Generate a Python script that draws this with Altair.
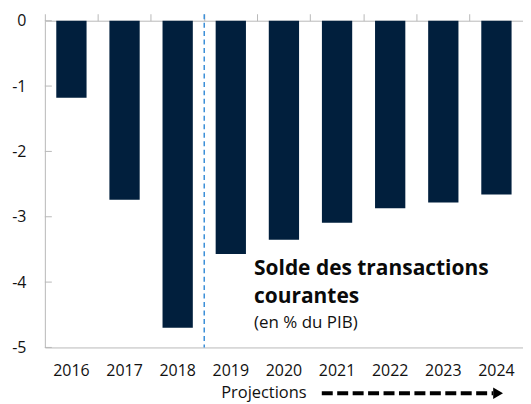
import altair as alt
import pandas as pd

years = ["2016", "2017", "2018", "2019", "2020", "2021", "2022", "2023", "2024"]
values = [-1.18, -2.74, -4.70, -3.57, -3.35, -3.09, -2.87, -2.78, -2.66]
y_ticks = [0, -1, -2, -3, -4, -5]

title_lines = ["Solde des transactions", "courantes"]
subtitle = "(en % du PIB)"
proj_label = "Projections"
proj_start_year = "2019"

FONT = "Open Sans"
BAR = "#011f3d"
GRAY = "#b9b9b9"

df = pd.DataFrame({"year": years, "value": values})
ticks_df = pd.DataFrame({"t": y_ticks})

xscale = alt.Scale(domain=years, paddingInner=0, paddingOuter=0)
yscale = alt.Scale(domain=[-5, 0], nice=False, zero=False)

bars = alt.Chart(df).mark_bar(color=BAR, width=alt.RelativeBandSize(0.57)).encode(
    x=alt.X("year:N", scale=xscale, sort=years,
            axis=alt.Axis(orient="bottom", title=None, ticks=False, domainColor=GRAY,
                          labelAngle=0, labelFont=FONT, labelFontSize=16,
                          labelColor="#111111", labelPadding=15, domainWidth=1)),
    y=alt.Y("value:Q", scale=yscale,
            axis=alt.Axis(title=None, values=y_ticks, labelExpr="datum.value + ''", ticks=False,
                          domainColor=GRAY, labelFont=FONT, labelFontSize=16,
                          labelColor="#111111", labelPadding=19, grid=False)),
)

top_axis = alt.Chart(df).mark_bar(opacity=0).encode(
    x=alt.X("year:N", scale=xscale, sort=years,
            axis=alt.Axis(orient="top", title=None, labels=False, tickSize=7,
                          tickColor=GRAY, domainColor=GRAY, bandPosition=0)),
    y=alt.Y("value:Q"),
)

ytick_marks = alt.Chart(ticks_df).mark_rule(color=GRAY, strokeWidth=1).encode(
    y=alt.Y("t:Q"),
    x=alt.value(0),
    x2=alt.value(7),
)

vline = alt.Chart(pd.DataFrame({"year": [proj_start_year], "top": [0.1], "bot": [-5]})).mark_rule(
    color="#3b8fd8", strokeWidth=1.5, strokeDash=[5, 3.5]
).encode(
    x=alt.X("year:N", bandPosition=0, axis=None),
    y=alt.Y("top:Q"),
    y2="bot:Q",
)

ann = pd.DataFrame({"txt": title_lines, "yy": [255, 283]})
ann_text = alt.Chart(ann).mark_text(
    align="left", baseline="alphabetic", font=FONT, fontSize=21, fontWeight="bold", color="#0a0a0a"
).encode(text="txt:N", x=alt.value(210), y=alt.Y("yy:Q", scale=None))

sub_text = alt.Chart(pd.DataFrame({"txt": [subtitle]})).mark_text(
    align="left", baseline="alphabetic", font=FONT, fontSize=17, color="#111111"
).encode(text="txt:N", x=alt.value(210), y=alt.value(308))

proj_text = alt.Chart(pd.DataFrame({"txt": [proj_label]})).mark_text(
    align="left", baseline="alphabetic", font=FONT, fontSize=16.5, color="#111111"
).encode(text="txt:N", x=alt.value(177), y=alt.value(379))

arrow_line = alt.Chart(pd.DataFrame({"a": [0]})).mark_rule(
    color="#000000", strokeWidth=4, strokeDash=[11, 4.5]
).encode(x=alt.value(278), x2=alt.value(450), y=alt.value(374))

arrow_head = alt.Chart(pd.DataFrame({"a": [0]})).mark_point(
    shape="triangle-right", filled=True, color="#000000", size=130, opacity=1
).encode(x=alt.value(455), y=alt.value(374))

chart = alt.layer(
    bars, top_axis, ytick_marks, vline, ann_text, sub_text, proj_text, arrow_line, arrow_head
).resolve_axis(x="independent").properties(
    width=480, height=328,
    autosize=alt.AutoSizeParams(type="none"),
    padding={"left": 37, "top": 12, "right": 0, "bottom": 56},
).configure_view(stroke=None)

chart.save("out.html", embed_options={"renderer": "svg", "actions": False})
